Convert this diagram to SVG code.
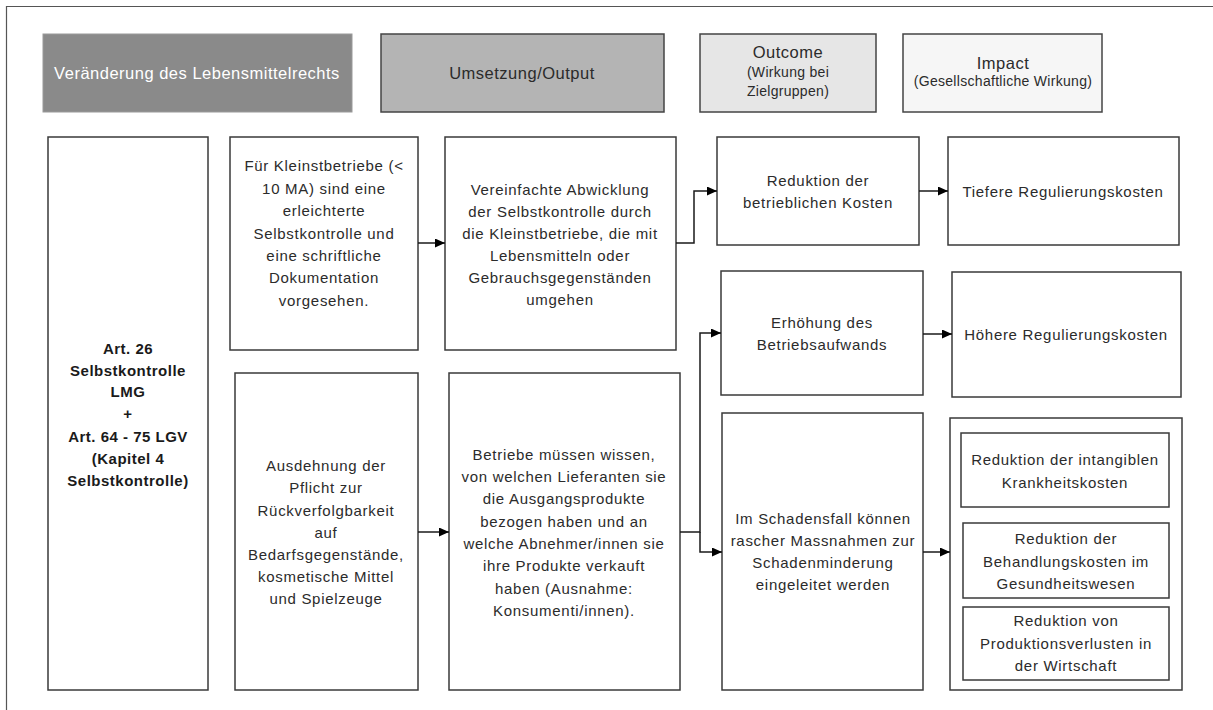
<svg xmlns="http://www.w3.org/2000/svg" width="1213" height="710" viewBox="0 0 1213 710">
<style>
.box{fill:#fff;stroke:#3a3a3a;stroke-width:1.5}
.t{font-family:"Liberation Sans",Arial,sans-serif;font-size:15px;letter-spacing:0.7px;fill:#2b2b2b;text-anchor:middle;dominant-baseline:central}
.b{font-weight:bold;letter-spacing:0.5px;fill:#1a1a1a}
.h{font-size:16.5px;letter-spacing:0.5px}
.hs{font-size:14px;letter-spacing:0.3px}
.c{fill:none;stroke:#1a1a1a;stroke-width:1.5}
</style>
<defs>
<marker id="ah" markerUnits="userSpaceOnUse" markerWidth="11" markerHeight="10" refX="10" refY="4.5" orient="auto">
<path d="M0,0 L10,4.5 L0,9 z" fill="#000"/>
</marker>
</defs>
<rect width="1213" height="710" fill="#fff"/>
<path d="M6.5,710 V6.5 H1213" fill="none" stroke="#555" stroke-width="1.2"/>

<g id="h1"><rect x="43" y="34" width="309" height="78" fill="#8a8a8a" stroke="#9a9a9a" stroke-width="1"/>
<text class="t h" x="197" y="73" fill="#fff" style="fill:#fff">Veränderung des Lebensmittelrechts</text></g>
<g id="h2"><rect x="381" y="34" width="283" height="78" fill="#b4b4b4" stroke="#444" stroke-width="1.5"/>
<text class="t h" x="522" y="73">Umsetzung/Output</text></g>
<g id="h3"><rect x="700" y="34" width="176" height="78" fill="#e6e6e6" stroke="#444" stroke-width="1.5"/>
<text class="t h" x="788" y="52">Outcome</text>
<text class="t hs" x="788" y="72">(Wirkung bei</text>
<text class="t hs" x="788" y="91">Zielgruppen)</text></g>
<g id="h4"><rect x="903" y="34" width="199" height="78" fill="#f6f6f6" stroke="#444" stroke-width="1.5"/>
<text class="t h" x="1003" y="63">Impact</text>
<text class="t hs" x="1003" y="81">(Gesellschaftliche Wirkung)</text></g>

<g id="law"><rect class="box" x="48" y="137" width="160" height="553"/>
<text class="t b" x="128" y="348">Art. 26</text>
<text class="t b" x="128" y="370">Selbstkontrolle</text>
<text class="t b" x="128" y="391">LMG</text>
<text class="t b" x="128" y="413">+</text>
<text class="t b" x="128" y="436">Art. 64 - 75 LGV</text>
<text class="t b" x="128" y="458">(Kapitel 4</text>
<text class="t b" x="128" y="480">Selbstkontrolle)</text></g>

<g id="a1"><rect class="box" x="230" y="137" width="188" height="213"/>
<text class="t" x="324" y="165">Für Kleinstbetriebe (&lt;</text>
<text class="t" x="324" y="188">10 MA) sind eine</text>
<text class="t" x="324" y="210">erleichterte</text>
<text class="t" x="324" y="233">Selbstkontrolle und</text>
<text class="t" x="324" y="255">eine schriftliche</text>
<text class="t" x="324" y="277">Dokumentation</text>
<text class="t" x="324" y="300">vorgesehen.</text></g>

<g id="a2"><rect class="box" x="445" y="137" width="231" height="213"/>
<text class="t" x="560" y="189">Vereinfachte Abwicklung</text>
<text class="t" x="560" y="211">der Selbstkontrolle durch</text>
<text class="t" x="560" y="233">die Kleinstbetriebe, die mit</text>
<text class="t" x="560" y="255">Lebensmitteln oder</text>
<text class="t" x="560" y="277">Gebrauchsgegenständen</text>
<text class="t" x="560" y="299">umgehen</text></g>

<g id="a3"><rect class="box" x="717" y="137" width="202" height="108"/>
<text class="t" x="818" y="180">Reduktion der</text>
<text class="t" x="818" y="202">betrieblichen Kosten</text></g>

<g id="a4"><rect class="box" x="948" y="137" width="231" height="108"/>
<text class="t" x="1063" y="191">Tiefere Regulierungskosten</text></g>

<g id="b3"><rect class="box" x="721" y="271" width="202" height="124"/>
<text class="t" x="822" y="322">Erhöhung des</text>
<text class="t" x="822" y="344">Betriebsaufwands</text></g>

<g id="b4"><rect class="box" x="952" y="272" width="229" height="125"/>
<text class="t" x="1066" y="334">Höhere Regulierungskosten</text></g>

<g id="c1"><rect class="box" x="235" y="373" width="183" height="317"/>
<text class="t" x="326" y="465">Ausdehnung der</text>
<text class="t" x="326" y="487">Pflicht zur</text>
<text class="t" x="326" y="510">Rückverfolgbarkeit</text>
<text class="t" x="326" y="532">auf</text>
<text class="t" x="326" y="554">Bedarfsgegenstände,</text>
<text class="t" x="326" y="576">kosmetische Mittel</text>
<text class="t" x="326" y="598">und Spielzeuge</text></g>

<g id="c2"><rect class="box" x="449" y="373" width="231" height="317"/>
<text class="t" x="564" y="454">Betriebe müssen wissen,</text>
<text class="t" x="564" y="476">von welchen Lieferanten sie</text>
<text class="t" x="564" y="498">die Ausgangsprodukte</text>
<text class="t" x="564" y="521">bezogen haben und an</text>
<text class="t" x="564" y="543">welche Abnehmer/innen sie</text>
<text class="t" x="564" y="565">ihre Produkte verkauft</text>
<text class="t" x="564" y="588">haben (Ausnahme:</text>
<text class="t" x="564" y="610">Konsumenti/innen).</text></g>

<g id="c3"><rect class="box" x="722" y="413" width="201" height="277"/>
<text class="t" x="823" y="518">Im Schadensfall können</text>
<text class="t" x="823" y="540">rascher Massnahmen zur</text>
<text class="t" x="823" y="562">Schadenminderung</text>
<text class="t" x="823" y="584">eingeleitet werden</text></g>

<g id="c4"><rect class="box" x="950" y="418" width="232" height="272"/>
<g id="d1"><rect class="box" x="961" y="433" width="208" height="74"/>
<text class="t" x="1065" y="459">Reduktion der intangiblen</text>
<text class="t" x="1065" y="482">Krankheitskosten</text></g>
<g id="d2"><rect class="box" x="963" y="523" width="206" height="75"/>
<text class="t" x="1066" y="538">Reduktion der</text>
<text class="t" x="1066" y="561">Behandlungskosten im</text>
<text class="t" x="1066" y="583">Gesundheitswesen</text></g>
<g id="d3"><rect class="box" x="963" y="607" width="206" height="73"/>
<text class="t" x="1066" y="620">Reduktion von</text>
<text class="t" x="1066" y="643">Produktionsverlusten in</text>
<text class="t" x="1066" y="665">der Wirtschaft</text></g></g>

<g id="connectors">
<path class="c" d="M418,243 H445" marker-end="url(#ah)"/>
<path class="c" d="M676,243 H694 V191 H717" marker-end="url(#ah)"/>
<path class="c" d="M919,191 H948" marker-end="url(#ah)"/>
<path class="c" d="M418,532 H449" marker-end="url(#ah)"/>
<path class="c" d="M680,532 H700 V333 H721" marker-end="url(#ah)"/>
<path class="c" d="M700,532 V552 H722" marker-end="url(#ah)"/>
<path class="c" d="M923,334 H952" marker-end="url(#ah)"/>
<path class="c" d="M923,552 H950" marker-end="url(#ah)"/>
</g>
</svg>
